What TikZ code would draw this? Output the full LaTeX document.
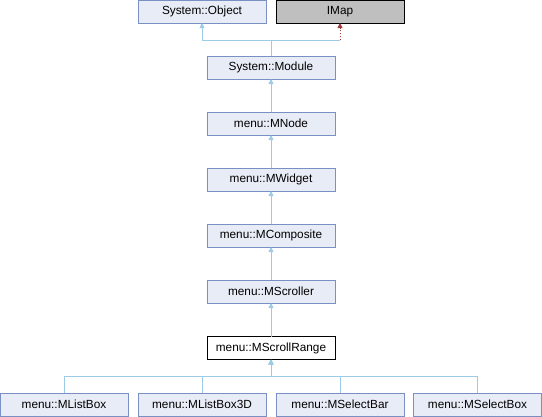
\documentclass[tikz,border=0pt]{standalone}
\usepackage{fontspec}
\setmainfont{Liberation Sans}
\usetikzlibrary{positioning, arrows.meta, calc}

\definecolor{boxfill}{HTML}{E8ECF6}
\definecolor{boxedge}{HTML}{7A8FC4}
\definecolor{inhline}{HTML}{9CCBE5}
\definecolor{implline}{HTML}{A33A3A}
\definecolor{extfill}{HTML}{BFBFBF}

\begin{document}
\begin{tikzpicture}[
  x=1bp, y=-1bp,
  every node/.style={draw=boxedge, fill=boxfill, line width=0.9bp,
    minimum width=128bp, minimum height=23bp, inner sep=0pt, outer sep=0pt,
    font=\fontsize{11.8bp}{14bp}\selectfont},
  extnode/.style={draw=black, fill=extfill},
  curnode/.style={draw=black, fill=white},
  inhedge/.style={draw=inhline, line width=0.9bp, -{Triangle[width=5bp,length=5bp]}},
  plainedge/.style={draw=inhline, line width=0.9bp},
  impledge/.style={draw=implline, line width=0.9bp, dotted, -{Triangle[width=5bp,length=5bp]}}
]
\useasboundingbox (0,0) rectangle (542,416);

\node (obj) at (202,11.5) [minimum width=128bp] {System::Object};
\node (imap) at (340,11.5) [extnode] {IMap};
\node (module) at (271,67.5) {System::Module};
\node (mnode) at (271,123.5) {menu::MNode};
\node (mwidget) at (271,179.5) {menu::MWidget};
\node (mcomposite) at (271,235.5) {menu::MComposite};
\node (mscroller) at (271,291.5) {menu::MScroller};
\node (mrange) at (271,348) [curnode] {menu::MScrollRange};

\node (mlistbox) at (64,404.5) {menu::MListBox};
\node (mlistbox3d) at (202,404.5) {menu::MListBox3D};
\node (mselectbar) at (340,404.5) {menu::MSelectBar};
\node (mselectbox) at (477.5,404.5) {menu::MSelectBox};

% top: two parents
\coordinate (topjoin) at (271,40);
\draw[inhedge] (module.north) -- (topjoin) -| (obj.south);
\draw[plainedge] (topjoin) -- (topjoin -| imap.south);
\draw[impledge] (topjoin -| imap.south) -- (imap.south);

% single chain
\draw[inhedge] (mnode) -- (module);
\draw[inhedge] (mwidget) -- (mnode);
\draw[inhedge] (mcomposite) -- (mwidget);
\draw[inhedge] (mscroller) -- (mcomposite);
\draw[inhedge] (mrange) -- (mscroller);

% bottom: four children
\foreach \c in {mlistbox, mlistbox3d, mselectbar, mselectbox}
  \draw[inhedge] (\c.north) -- ++(0,-17) -| (mrange.south);

\end{tikzpicture}
\end{document}
